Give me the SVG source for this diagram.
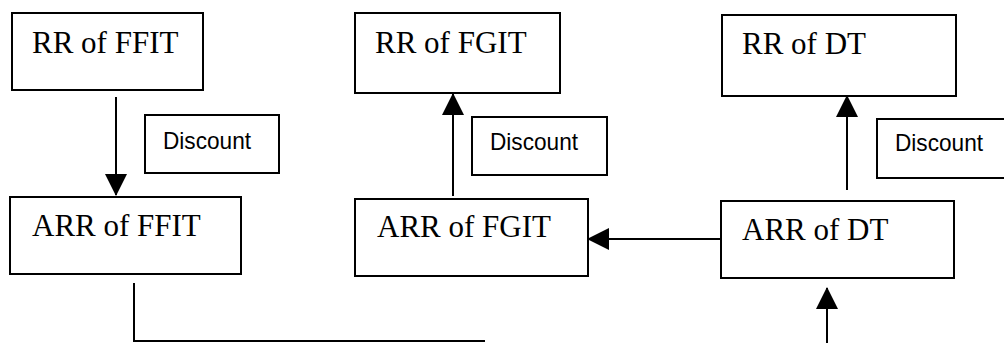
<svg xmlns="http://www.w3.org/2000/svg" width="1004" height="343" viewBox="0 0 1004 343">
<style>
.box{fill:#fff;stroke:#000;stroke-width:2}
.big{font-family:"Liberation Serif","Times New Roman",serif;font-size:31px;fill:#000}
.small{font-family:"Liberation Sans",Arial,sans-serif;font-size:24px;fill:#000}
.conn{fill:none;stroke:#000;stroke-width:2}
</style>
<defs>
<marker id="arr" viewBox="0 0 22 22" refX="21" refY="11" markerWidth="22" markerHeight="22" markerUnits="userSpaceOnUse" orient="auto">
<path d="M0,0 L22,11 L0,22 z" fill="#000"/>
</marker>
</defs>
<rect width="1004" height="343" fill="#fff"/>
<g id="rr-ffit"><rect class="box" x="12" y="13" width="191" height="77"/><text class="big" x="32" y="53">RR of FFIT</text></g>
<g id="discount-1"><rect class="box" x="145" y="115" width="134" height="58"/><text class="small" x="163" y="149" textLength="88" lengthAdjust="spacingAndGlyphs">Discount</text></g>
<g id="arr-ffit"><rect class="box" x="10" y="197" width="231" height="77"/><text class="big" x="32" y="236">ARR of FFIT</text></g>
<g id="rr-fgit"><rect class="box" x="355" y="13" width="205" height="80"/><text class="big" x="375" y="53">RR of FGIT</text></g>
<g id="discount-2"><rect class="box" x="472" y="117" width="135" height="58"/><text class="small" x="490" y="150" textLength="88" lengthAdjust="spacingAndGlyphs">Discount</text></g>
<g id="arr-fgit"><rect class="box" x="355" y="199" width="233" height="77"/><text class="big" x="377" y="237">ARR of FGIT</text></g>
<g id="rr-dt"><rect class="box" x="722" y="15" width="234" height="81"/><text class="big" x="742" y="54">RR of DT</text></g>
<g id="discount-3"><rect class="box" x="877" y="119" width="140" height="59"/><text class="small" x="895" y="151" textLength="88" lengthAdjust="spacingAndGlyphs">Discount</text></g>
<g id="arr-dt"><rect class="box" x="721" y="201" width="233" height="77"/><text class="big" x="742" y="240">ARR of DT</text></g>
<g id="connectors">
<line class="conn" x1="116" y1="97" x2="116" y2="195" marker-end="url(#arr)"/>
<line class="conn" x1="453" y1="196" x2="453" y2="94" marker-end="url(#arr)"/>
<line class="conn" x1="847" y1="190" x2="847" y2="96" marker-end="url(#arr)"/>
<line class="conn" x1="721" y1="239" x2="588" y2="239" marker-end="url(#arr)"/>
<path class="conn" d="M134,283 V341 H485"/>
<line class="conn" x1="827" y1="343" x2="827" y2="288" marker-end="url(#arr)"/>
</g>
</svg>
